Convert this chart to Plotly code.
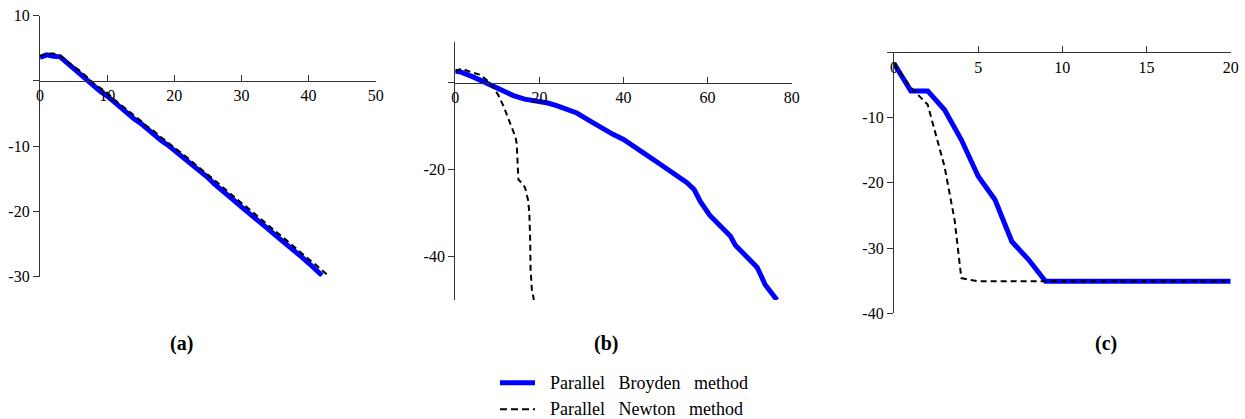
import plotly.graph_objects as go

W, H = 1245, 419

# ---------------- data ----------------
# panel (a)
a_broyden_x = list(range(0, 43))
a_broyden_y = [3.6, 4.0, 3.8, 3.7, 2.8, 1.9, 1.2, 0.3, -0.8, -1.6,
               -2.3, -3.2, -4.2, -5.0, -5.8, -6.5, -7.4, -8.3, -9.1, -9.8,
               -10.6, -11.5, -12.4, -13.2, -14.0, -14.8, -15.8, -16.6, -17.5, -18.4,
               -19.3, -20.1, -21.0, -21.8, -22.7, -23.6, -24.4, -25.3, -26.2, -27.0,
               -27.9, -28.8, -29.8]
a_newton_x = list(range(0, 44))
a_newton_y = [3.8, 4.2, 4.2, 3.9, 3.0, 2.3, 1.5, 0.6, -0.4, -1.1,
              -1.8, -2.8, -3.6, -4.5, -5.2, -6.1, -7.0, -7.7, -8.6, -9.4,
              -10.1, -11.0, -11.8, -12.7, -13.5, -14.4, -15.2, -16.1, -17.0, -17.8,
              -18.7, -19.5, -20.4, -21.3, -22.1, -23.0, -23.8, -24.7, -25.6, -26.4,
              -27.3, -28.1, -29.0, -29.9]

# panel (b)
b_broyden_x = [0, 1.1, 4.5, 8.3, 11, 13.8, 16.5, 19.4, 22, 24.1, 26.5, 28.9, 32, 35.2,
               37.5, 40, 42.5, 44.8, 46.5, 48.3, 51.1, 53, 55.1, 56.8, 58.3, 60.5, 63, 65.4,
               66.6, 69, 71.8, 73.7, 75.2, 76.5]
b_broyden_y = [2.6, 2.5, 1.2, -0.5, -2.0, -3.0, -3.8, -4.2, -4.7, -5.3, -6.1, -7.0, -8.8, -10.8,
               -11.9, -13.1, -14.6, -16.2, -17.3, -18.5, -20.5, -21.7, -23.0, -24.6, -27.4, -30.5, -33.0, -35.3,
               -37.4, -39.6, -42.5, -46.5, -48.6, -50.0]
b_newton_x = [0, 1.5, 3.5, 5.9, 8.3, 10.2, 11.5, 13.0, 14.3, 14.6, 14.8, 15.0, 16.0, 16.6,
              17.3, 17.6, 17.8, 17.9, 18.2, 18.7]
b_newton_y = [2.6, 3.2, 2.5, 1.8, -0.1, -2.8, -5.5, -9.3, -12.5, -14.0, -18.0, -22.3, -23.3, -24.2,
              -27.0, -29.9, -36.0, -42.9, -47.5, -50.0]

# panel (c)
c_broyden_x = [0, 1, 2, 3, 4, 5, 6, 7, 8, 9, 10, 11, 12, 13, 14, 15, 16, 17, 18, 19, 20]
c_broyden_y = [-1.7, -5.9, -5.9, -8.8, -13.4, -19.0, -22.6, -29.0, -31.8, -35.1,
               -35.1, -35.1, -35.1, -35.1, -35.1, -35.1, -35.1, -35.1, -35.1, -35.1, -35.1]
c_newton_x = [0, 1, 2, 3, 3.6, 4, 5, 6, 7, 8, 9, 10, 11, 12, 13, 14, 15, 16, 17, 18, 19, 20]
c_newton_y = [-1.7, -5.4, -8.0, -17.5, -25.7, -34.6, -35.1, -35.1, -35.1, -35.1, -35.1,
              -35.1, -35.1, -35.1, -35.1, -35.1, -35.1, -35.1, -35.1, -35.1, -35.1, -35.1]

# tick labels
a_xticks = [0, 10, 20, 30, 40, 50]
a_yticks = [10, 0, -10, -20, -30]
a_yticktext = ["10", "", "-10", "-20", "-30"]
b_xticks = [0, 20, 40, 60, 80]
b_yticks = [0, -20, -40]
b_yticktext = ["", "-20", "-40"]
c_xticks = [0, 5, 10, 15, 20]
c_yticks = [0, -10, -20, -30, -40]
c_yticktext = ["", "-10", "-20", "-30", "-40"]

panel_labels = ["(a)", "(b)", "(c)"]
SP = "\u00a0\u00a0\u00a0"
series_names = ["Parallel" + SP + "Broyden" + SP + "method", "Parallel" + SP + "Newton" + SP + "method"]

# ---------------- styles ----------------
BLUE = "#0000ff"
AX = "#333333"
FONT = "Liberation Serif"


def px_x(p):
    return p / W


def px_y(p):
    return 1 - p / H


fig = go.Figure()

panels = [
    ("x", "y", a_broyden_x, a_broyden_y, a_newton_x, a_newton_y),
    ("x2", "y2", b_broyden_x, b_broyden_y, b_newton_x, b_newton_y),
    ("x3", "y3", c_broyden_x, c_broyden_y, c_newton_x, c_newton_y),
]
for xa, ya, bx, by, nx, ny in panels:
    fig.add_trace(go.Scatter(x=bx, y=by, xaxis=xa, yaxis=ya, mode="lines",
                             line=dict(color=BLUE, width=5), name=series_names[0],
                             showlegend=False))
    fig.add_trace(go.Scatter(x=nx, y=ny, xaxis=xa, yaxis=ya, mode="lines",
                             line=dict(color="black", width=2, dash="6px,4px"),
                             name=series_names[1], showlegend=False))

tickfont = dict(family=FONT, size=16, color="black")


def xax(domain, rng, ticks, pos):
    return dict(domain=domain, range=rng, tickvals=ticks, ticktext=[str(t) for t in ticks],
                anchor="free", position=pos, showline=True, linecolor=AX, linewidth=1.3,
                ticks="inside", ticklen=6, tickcolor=AX, tickwidth=1.3,
                showgrid=False, zeroline=False, tickfont=tickfont, fixedrange=True)


def yax(domain, rng, ticks, text, anchor):
    return dict(domain=domain, range=rng, tickvals=ticks, ticktext=text,
                anchor=anchor, side="left", showline=True, linecolor=AX, linewidth=1.3,
                ticks="outside", ticklen=6, tickcolor=AX, tickwidth=1.3,
                showgrid=False, zeroline=False, tickfont=tickfont, fixedrange=True)


fig.update_layout(
    width=W, height=H,
    margin=dict(l=0, r=0, t=0, b=0, autoexpand=False),
    paper_bgcolor="white", plot_bgcolor="rgba(0,0,0,0)",
    xaxis=xax([px_x(40), px_x(375.7)], [0, 50], a_xticks, px_y(80.7)),
    yaxis=yax([px_y(276.7), px_y(15.7)], [-30, 10], a_yticks, a_yticktext, "x"),
    xaxis2=xax([px_x(455.3), px_x(791.7)], [0, 80], b_xticks, px_y(82.7)),
    yaxis2=yax([px_y(300), px_y(41.7)], [-50, 9.4], b_yticks, b_yticktext, "x2"),
    xaxis3=xax([px_x(894), px_x(1230.7)], [0, 20], c_xticks, px_y(52.4)),
    yaxis3=yax([px_y(313.3), px_y(52.4)], [-40, 0], c_yticks, c_yticktext, "x3"),
    showlegend=False,
)

# legend (drawn as key samples + text)
legend_rows = [(382.7, dict(color=BLUE, width=5)),
               (409.3, dict(color="black", width=2, dash="7px,4px"))]
for (yc, ln), name in zip(legend_rows, series_names):
    fig.add_shape(type="line", xref="paper", yref="paper",
                  x0=px_x(500), x1=px_x(535), y0=px_y(yc), y1=px_y(yc), line=ln)
    fig.add_annotation(x=px_x(548), y=px_y(yc), xref="paper", yref="paper",
                       text=name, showarrow=False, xanchor="left", yanchor="middle",
                       font=dict(family=FONT, size=18, color="black"))

label_pos = [181, 606, 1106]
for lab, cx in zip(panel_labels, label_pos):
    fig.add_annotation(x=px_x(cx), y=px_y(343), xref="paper", yref="paper",
                       text="<b>" + lab + "</b>", showarrow=False,
                       font=dict(family=FONT, size=20, color="black"),
                       xanchor="center", yanchor="middle")

fig.write_html("out.html")
